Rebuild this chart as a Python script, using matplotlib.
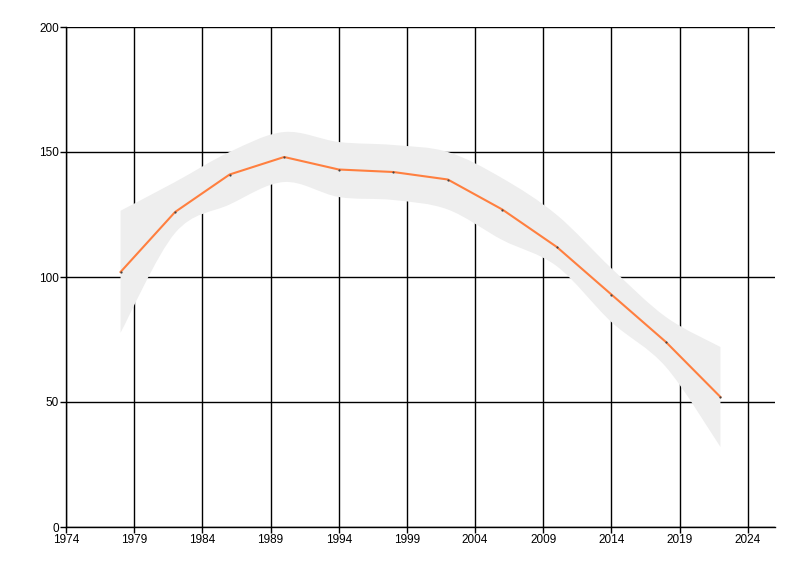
import matplotlib
matplotlib.use("Agg")
import matplotlib.pyplot as plt
from matplotlib.path import Path
from matplotlib.patches import PathPatch

years = [1978, 1982, 1986, 1990, 1994, 1998, 2002, 2006, 2010, 2014, 2018, 2022]
values = [102, 126, 141, 148, 143, 142, 139, 127, 112, 93, 74, 52]
upper = [126.5, 138, 150, 158, 154, 152.8, 150, 139.5, 124.8, 103.5, 84, 72]
lower = [77.7, 117.6, 129, 138, 132, 130.8, 127, 114.8, 104.3, 82, 64, 32]
xticks = [1974, 1979, 1984, 1989, 1994, 1999, 2004, 2009, 2014, 2019, 2024]
yticks = [0, 50, 100, 150, 200]


def bezier_segments(xs, ys):
    """Catmull-Rom control points expressed as cubic Bezier path pieces."""
    pts = list(zip(xs, ys))
    verts, codes = [], []
    n = len(pts)
    for i in range(n - 1):
        p0 = pts[i - 1] if i > 0 else pts[i]
        p1 = pts[i]
        p2 = pts[i + 1]
        p3 = pts[i + 2] if i + 2 < n else pts[i + 1]
        c1 = (p1[0] + (p2[0] - p0[0]) / 6, p1[1] + (p2[1] - p0[1]) / 6)
        c2 = (p2[0] - (p3[0] - p1[0]) / 6, p2[1] - (p3[1] - p1[1]) / 6)
        verts += [c1, c2, p2]
        codes += [Path.CURVE4] * 3
    return verts, codes


fig = plt.figure(figsize=(8, 5.76), dpi=100)
ax = fig.add_axes([66 / 800, 1 - 527 / 576, (775 - 66) / 800, 500 / 576])

# band
v_up, c_up = bezier_segments(years, upper)
rev_years = years[::-1]
rev_lower = lower[::-1]
v_lo, c_lo = bezier_segments(rev_years, rev_lower)
verts = [(years[0], upper[0])] + v_up + [(rev_years[0], rev_lower[0])] + v_lo + [(years[0], upper[0])]
codes = [Path.MOVETO] + c_up + [Path.LINETO] + c_lo + [Path.CLOSEPOLY]
ax.add_patch(PathPatch(Path(verts, codes), facecolor="#eeeeee", edgecolor="none", zorder=2))

ax.plot(years, values, color="#ff7f3f", lw=1.5, zorder=3)
ax.scatter(years, values, s=2.5, color="#444444", linewidths=0, zorder=4)

ax.set_xlim(1974, 2026)
ax.set_ylim(0, 200)
ax.set_xticks(xticks)
ax.set_yticks(yticks)
ax.grid(True, color="black", lw=1)
ax.set_axisbelow(True)
for s in ["top", "right"]:
    ax.spines[s].set_visible(False)
for s in ["left", "bottom"]:
    ax.spines[s].set_color("black")
    ax.spines[s].set_linewidth(1)
ax.tick_params(direction="out", length=4, width=1, pad=1, colors="black")
for lab in ax.get_xticklabels() + ax.get_yticklabels():
    lab.set_family(["Liberation Sans", "DejaVu Sans"])
    lab.set_fontsize(8.5)

fig.savefig("out.png", dpi=100)
